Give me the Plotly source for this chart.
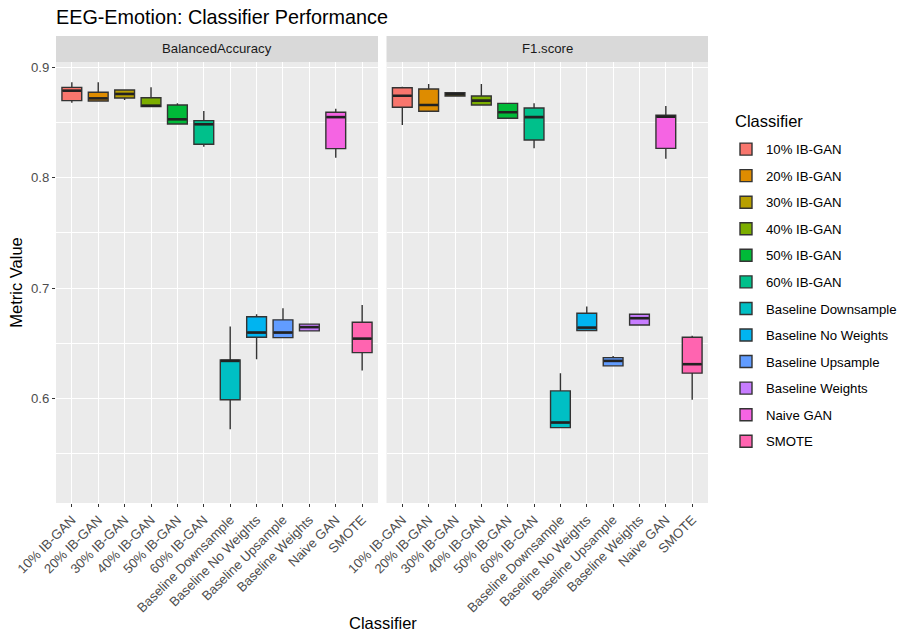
import plotly.graph_objects as go

categories = ["10% IB-GAN", "20% IB-GAN", "30% IB-GAN", "40% IB-GAN", "50% IB-GAN",
              "60% IB-GAN", "Baseline Downsample", "Baseline No Weights",
              "Baseline Upsample", "Baseline Weights", "Naive GAN", "SMOTE"]
colors = ["#F8766D", "#DE8C00", "#B79F00", "#7CAE00", "#00BA38", "#00C08B",
          "#00BFC4", "#00B4F0", "#619CFF", "#C77CFF", "#F564E3", "#FF64B0"]

# BalancedAccuracy
ba_low = [0.868, 0.8696, 0.8705, 0.8645, 0.8488, 0.8282, 0.572, 0.6354, 0.655, 0.6611, 0.8182, 0.6251]
ba_q1 = [0.870, 0.8696, 0.8724, 0.8645, 0.8488, 0.8304, 0.5986, 0.6554, 0.655, 0.6611, 0.8264, 0.6414]
ba_med = [0.879, 0.872, 0.876, 0.8654, 0.853, 0.8485, 0.6339, 0.6596, 0.6596, 0.6645, 0.855, 0.6541]
ba_q3 = [0.882, 0.8775, 0.8796, 0.8726, 0.866, 0.8518, 0.6348, 0.674, 0.6711, 0.6672, 0.8594, 0.669]
ba_up = [0.8866, 0.8866, 0.8796, 0.882, 0.8675, 0.8606, 0.665, 0.6762, 0.6817, 0.6672, 0.8627, 0.6847]

# F1.score
f1_low = [0.8479, 0.8603, 0.8742, 0.866, 0.854, 0.8267, 0.5734, 0.6614, 0.6294, 0.6665, 0.8173, 0.5986]
f1_q1 = [0.8639, 0.8603, 0.8742, 0.866, 0.854, 0.8343, 0.5734, 0.6614, 0.6294, 0.6665, 0.8267, 0.6228]
f1_med = [0.8744, 0.866, 0.8757, 0.870, 0.8594, 0.855, 0.578, 0.6641, 0.6339, 0.6726, 0.8554, 0.6309]
f1_q3 = [0.8817, 0.8805, 0.8772, 0.8742, 0.8675, 0.8633, 0.6067, 0.6771, 0.6369, 0.6762, 0.8567, 0.6554]
f1_up = [0.8826, 0.885, 0.8772, 0.885, 0.8675, 0.8675, 0.6228, 0.6832, 0.6384, 0.6762, 0.8651, 0.6566]

panels = ["BalancedAccuracy", "F1.score"]

FONT = "Liberation Sans, Arial, Helvetica, sans-serif"
SMALL = 13.2
MID = 16.5
BIG = 19.8
BOXW = 0.75

fig = go.Figure()
series = [(ba_low, ba_q1, ba_med, ba_q3, ba_up), (f1_low, f1_q1, f1_med, f1_q3, f1_up)]
for i, cat in enumerate(categories):
    for p, (lo, q1, md, q3, up) in enumerate(series):
        fig.add_trace(go.Box(
            x=[cat], q1=[q1[i]], median=[md[i]], q3=[q3[i]],
            lowerfence=[lo[i]], upperfence=[up[i]],
            name=cat, legendgroup=cat, showlegend=(p == 0),
            fillcolor=colors[i], line=dict(color="#333333", width=1.4),
            whiskerwidth=0, width=BOXW, boxpoints=False,
            xaxis="x" if p == 0 else "x2", yaxis="y" if p == 0 else "y2",
            hoverinfo="skip",
        ))

# thicker median bars (ggplot fatten)
for p, s in enumerate(series):
    md = s[2]
    for i in range(len(categories)):
        fig.add_shape(type="line", xref="x" if p == 0 else "x2", yref="y" if p == 0 else "y2",
                      x0=i - BOXW / 2 + 0.02, x1=i + BOXW / 2 - 0.02, y0=md[i], y1=md[i],
                      line=dict(color="#222222", width=2.6), layer="above")

W, H = 902, 633
ml, mr, mt, mb = 56, 194, 36, 130
pw = W - ml - mr
ph = H - mt - mb
p1_end = (378 - ml) / pw
p2_start = (386.5 - ml) / pw
ytop = (503 - 62) / ph

axis_common = dict(
    type="category", categoryorder="array", categoryarray=categories,
    range=[-0.6, 11.6], showgrid=True, gridcolor="white", gridwidth=1.1,
    ticks="outside", ticklen=3, tickcolor="#333333", tickwidth=1,
    tickangle=-45, tickfont=dict(family=FONT, size=SMALL, color="#4D4D4D"),
    zeroline=False, showline=False, fixedrange=True, automargin=False,
)
yaxis_common = dict(
    range=[0.505, 0.905], domain=[0, ytop], showgrid=True, gridcolor="white",
    gridwidth=1.1, tickvals=[0.6, 0.7, 0.8, 0.9], ticktext=["0.6", "0.7", "0.8", "0.9"],
    minor=dict(tickvals=[0.55, 0.65, 0.75, 0.85], showgrid=True, gridcolor="white", gridwidth=0.5),
    zeroline=False, showline=False, automargin=False, fixedrange=True,
)

fig.update_layout(
    width=W, height=H,
    margin=dict(l=ml, r=mr, t=mt, b=mb, autoexpand=False),
    paper_bgcolor="white", plot_bgcolor="#EBEBEB",
    font=dict(family=FONT, color="#1A1A1A"),
    title=dict(text="EEG-Emotion: Classifier Performance", x=ml / W, xanchor="left",
               xref="container", y=1 - 17 / H, yanchor="middle", yref="container",
               font=dict(family=FONT, size=BIG, color="#000000")),
    xaxis=dict(domain=[0, p1_end], anchor="y", **axis_common),
    xaxis2=dict(domain=[p2_start, 1], anchor="y2", **axis_common),
    yaxis=dict(anchor="x", ticks="outside", ticklen=3, tickcolor="#333333",
               tickfont=dict(family=FONT, size=SMALL, color="#4D4D4D"),
               title=dict(text="Metric Value", font=dict(family=FONT, size=MID, color="#000000"),
                          standoff=4),
               **yaxis_common),
    yaxis2=dict(anchor="x2", matches="y", showticklabels=False, ticks="", **yaxis_common),
    showlegend=True,
    legend=dict(
        font=dict(family=FONT, size=SMALL, color="#000000"),
        x=(726 - ml) / pw, xanchor="left", y=(503 - 134) / ph, yanchor="top",
        tracegroupgap=6.4, bgcolor="white", traceorder="grouped",
    ),
    boxmode="overlay",
)

# legend title
fig.add_annotation(text="Classifier", xref="paper", yref="paper", x=(733 - ml) / pw,
                   y=(503 - 121) / ph, showarrow=False, xanchor="left", yanchor="middle",
                   font=dict(family=FONT, size=MID, color="#000000"))

# strips
for k, (x0, x1) in enumerate([(0, p1_end), (p2_start, 1)]):
    fig.add_shape(type="rect", xref="paper", yref="paper", x0=x0, x1=x1,
                  y0=ytop, y1=1, fillcolor="#D9D9D9", line=dict(width=0), layer="below")
    fig.add_annotation(text=panels[k], xref="paper", yref="paper", x=(x0 + x1) / 2,
                       y=(ytop + 1) / 2, showarrow=False, xanchor="center", yanchor="middle",
                       font=dict(family=FONT, size=SMALL, color="#1A1A1A"))

# x-axis title
fig.add_annotation(text="Classifier", xref="paper", yref="paper", x=(383 - ml) / pw,
                   y=-(623 - 503) / ph, showarrow=False, xanchor="center", yanchor="middle",
                   font=dict(family=FONT, size=MID, color="#000000"))

fig.write_html("out.html", config={"displayModeBar": False},
               post_script="document.body.style.margin='0';document.body.style.overflow='hidden';")
